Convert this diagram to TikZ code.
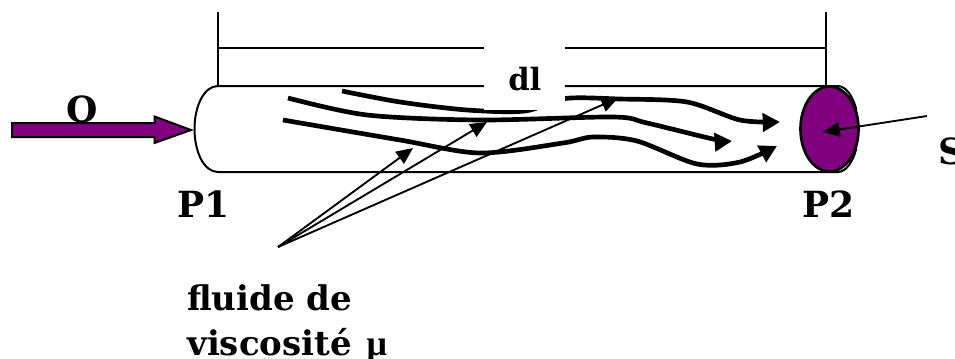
\documentclass[tikz,border=0pt]{standalone}
\usepackage{fontspec}
\setmainfont{DejaVu Serif}
\newfontfamily\muface{Liberation Serif}
\usetikzlibrary{arrows.meta}
\definecolor{tubepurple}{HTML}{800080}
\tikzset{
  thinline/.style={line width=1.4pt,black},
  tubeline/.style={line width=1.5pt,black},
  stream/.style={line width=3.5pt,black,line cap=butt,-{Triangle[length=13pt,width=13.5pt]}},
  pointer/.style={line width=1.4pt,black,-{Triangle[length=12.5pt,width=11pt]}},
  label/.style={inner sep=0pt,anchor=base west,font=\bfseries\fontsize{27}{27}\selectfont},
  smalllabel/.style={inner sep=0pt,anchor=base west,font=\bfseries\fontsize{25.5}{25.5}\selectfont},
  dimlabel/.style={inner sep=0pt,anchor=base west,font=\bfseries\fontsize{23}{23}\selectfont},
}
\begin{document}
\begin{tikzpicture}[x=0.75pt,y=-0.75pt]
\useasboundingbox (0,0) rectangle (955,358);
\clip (0,0) rectangle (955,358);
% dimension lines
\coordinate (dimLT) at (218,12);
\coordinate (dimLB) at (218,86);
\coordinate (dimRT) at (826,12);
\coordinate (dimRB) at (826,86);
\coordinate (dimLM) at (218,48);
\coordinate (dimRM) at (826,48);
\draw[thinline] (dimLT) -- (dimLB);
\draw[thinline] (dimRT) -- (dimRB);
\draw[thinline] (dimLM) -- (dimRM);
% tube
\draw[tubeline] (218,86) -- (838,86) .. controls (846,86.5) and (852,95) .. (856,108)
  -- (856,150) .. controls (852,163) and (846,171.5) .. (838,172) -- (218,172)
  .. controls (204,172) and (194.5,152) .. (194.5,129)
  .. controls (194.5,106) and (204,86) .. (218,86) -- cycle;
\draw[line width=2pt,fill=tubepurple] (829.5,129) ellipse [x radius=29,y radius=42.5];
% streamlines
\draw[stream] plot[smooth,tension=0.5] coordinates {(342,91) (400,102) (467,110) (525,111) (565,98.5) (620,99) (687,102) (740,120) (780,122)};
\draw[stream] plot[smooth,tension=0.5] coordinates {(288,98) (367,115) (480,120) (613,117) (647,123) (713,139) (732,141)};
\draw[stream] plot[smooth,tension=0.5] coordinates {(283,120) (400,140) (480,153) (563,143) (593,137) (637,141) (697,164) (740,162) (777,146)};
% pointers
\coordinate (fan) at (278,247);
\coordinate (tipA) at (413,148);
\coordinate (tipB) at (487,122);
\coordinate (tipC) at (618,98);
\draw[pointer] (fan) -- (tipA);
\draw[pointer] (fan) -- (tipB);
\draw[pointer] (fan) -- (tipC);
\fill[white] (484,44) rectangle (565,110);
% block arrow
\draw[line width=1.5pt,fill=tubepurple] (12,123) -- (154.5,123) -- (154.5,116.5) -- (191,130) -- (154.5,143) -- (154.5,137) -- (12,137) -- cycle;
% S pointer
\coordinate (sStart) at (927,116);
\coordinate (sTip) at (823,132);
\draw[pointer] (sStart) -- (sTip);
% labels
\node[label] (q) at (66,122) {O};
\node[label] (p1) at (177,217) {P1};
\node[label] (p2) at (802,217) {P2};
\node[label] (s) at (938,164) {S};
\node[dimlabel] (dl) at (508,90) {dl};
\node[smalllabel] (f1) at (187,310) {fluide de};
\node[smalllabel] (f2) at (187,355) {viscosité\hspace{11pt}{\muface\fontsize{27}{27}\selectfont μ}};
\end{tikzpicture}
\end{document}
